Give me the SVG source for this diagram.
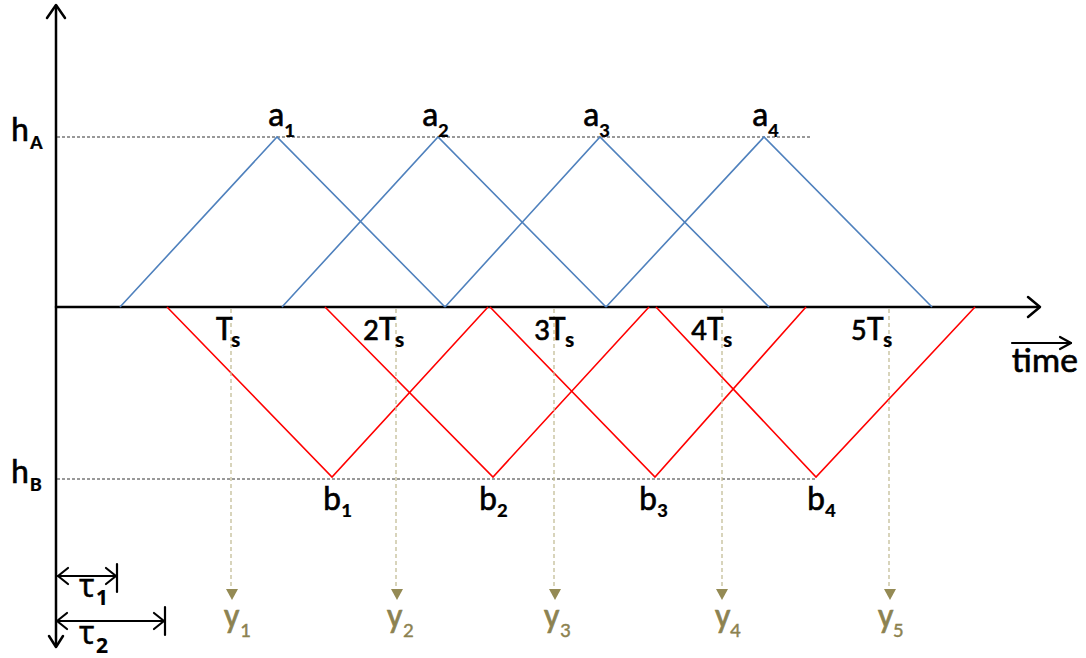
<svg xmlns="http://www.w3.org/2000/svg" width="1086" height="658" viewBox="0 0 1086 658">
<style>
.ax{stroke:#000;stroke-width:2.5;fill:none;stroke-linecap:round;stroke-linejoin:round}
.ar{stroke:#000;stroke-width:2.2;fill:none;stroke-linecap:round;stroke-linejoin:round}
.hd{stroke:#333;stroke-width:1;stroke-dasharray:3 2;fill:none}
.vd{stroke:#C4BD97;stroke-width:1.3;stroke-dasharray:4 3;fill:none}
.bl{stroke:#4F81BD;stroke-width:1.6;fill:none}
.rd{stroke:#FF0000;stroke-width:1.6;fill:none}
.oh{fill:#948A54}
.t{font-family:Carlito,Lato,"Noto Sans",sans-serif;font-size:34px;fill:#000;stroke:#000;stroke-width:0.6}
.s{font-size:21px;font-weight:bold;stroke-width:0.2}
.ss{font-size:23px;font-weight:bold;stroke-width:0.2}
.n{font-size:31px}
.g{font-family:"Noto Sans",sans-serif;font-size:32px;fill:#000;stroke:#000;stroke-width:0.4}
.y{font-family:Carlito,Lato,"Noto Sans",sans-serif;font-size:34px;fill:#8C8250;stroke:#8C8250;stroke-width:0.7}
.ys{font-size:21px;stroke-width:0.4}
</style>
<g id="axes">
<line class="ax" x1="56" y1="6" x2="56" y2="646"/>
<polyline class="ax" points="47,18 56,5 65,18"/>
<polyline class="ax" points="49,636 56,647 63,636"/>
<line class="ax" x1="56" y1="307" x2="1039" y2="307"/>
<polyline class="ax" points="1028,297 1040,307 1028,317"/>
<line class="ar" x1="1012" y1="343" x2="1071" y2="343"/>
<polyline class="ar" points="1060,337 1071,343 1060,349"/>
</g>
<g id="levels">
<line class="hd" x1="57" y1="137" x2="810" y2="137"/>
<line class="hd" x1="57" y1="479" x2="815" y2="479"/>
</g>
<g id="blue-triangles">
<polyline class="bl" points="120,307 277,137 445,307"/>
<polyline class="bl" points="282,307 438,137 606,307"/>
<polyline class="bl" points="445,307 600,137 769,307"/>
<polyline class="bl" points="606,307 764,137 932,307"/>
</g>
<g id="red-triangles">
<polyline class="rd" points="167,307 332,477 488,307"/>
<polyline class="rd" points="325,307 493,477 649,307"/>
<polyline class="rd" points="490,307 655,477 806,307"/>
<polyline class="rd" points="656,307 816,477 975,307"/>
</g>
<g id="connectors">
<line class="vd" x1="231" y1="309" x2="231" y2="589"/>
<line class="vd" x1="396" y1="309" x2="396" y2="589"/>
<line class="vd" x1="554" y1="309" x2="554" y2="589"/>
<line class="vd" x1="722" y1="309" x2="722" y2="589"/>
<line class="vd" x1="889" y1="309" x2="889" y2="589"/>
<polygon class="oh" points="226,589 238,589 232,600"/>
<polygon class="oh" points="391,589 403,589 397,600"/>
<polygon class="oh" points="549,589 561,589 555,600"/>
<polygon class="oh" points="716,589 728,589 722,600"/>
<polygon class="oh" points="884,589 896,589 890,600"/>
</g>
<g id="tau1">
<line class="ar" x1="58" y1="576" x2="116" y2="576"/>
<polyline class="ar" points="68,568 58,576 68,584"/>
<polyline class="ar" points="106,568 116,576 106,584"/>
<line class="ar" x1="117" y1="564" x2="117" y2="592"/>
<text class="g" x="79" y="597">τ<tspan class="s" x="96" y="605">1</tspan></text>
</g>
<g id="tau2">
<line class="ar" x1="57" y1="621" x2="164" y2="621"/>
<polyline class="ar" points="67,613 57,621 67,629"/>
<polyline class="ar" points="154,613 164,621 154,629"/>
<line class="ar" x1="165" y1="607" x2="165" y2="635"/>
<text class="g" x="79" y="644">τ<tspan class="s" x="96" y="653">2</tspan></text>
</g>
<g id="hA"><text class="t" x="11" y="141">h<tspan class="s" x="30" y="149">A</tspan></text></g>
<g id="hB"><text class="t" x="11" y="483">h<tspan class="s" x="30" y="491">B</tspan></text></g>
<g id="a1"><text class="t" x="268" y="126">a<tspan class="s" x="284" y="137">1</tspan></text></g>
<g id="a2"><text class="t" x="422" y="126">a<tspan class="s" x="438" y="137">2</tspan></text></g>
<g id="a3"><text class="t" x="583" y="126">a<tspan class="s" x="599" y="137">3</tspan></text></g>
<g id="a4"><text class="t" x="752" y="126">a<tspan class="s" x="768" y="137">4</tspan></text></g>
<g id="b1"><text class="t" x="323" y="510">b<tspan class="s" x="341" y="517">1</tspan></text></g>
<g id="b2"><text class="t" x="479" y="510">b<tspan class="s" x="497" y="517">2</tspan></text></g>
<g id="b3"><text class="t" x="639" y="510">b<tspan class="s" x="657" y="517">3</tspan></text></g>
<g id="b4"><text class="t" x="807" y="510">b<tspan class="s" x="825" y="517">4</tspan></text></g>
<g id="Ts1"><text class="t" x="216" y="340">T<tspan class="ss" x="231" y="347">s</tspan></text></g>
<g id="Ts2"><text class="t" x="363" y="340"><tspan class="n">2</tspan><tspan x="379">T</tspan><tspan class="ss" x="395" y="347">s</tspan></text></g>
<g id="Ts3"><text class="t" x="534" y="340"><tspan class="n">3</tspan><tspan x="549">T</tspan><tspan class="ss" x="565" y="347">s</tspan></text></g>
<g id="Ts4"><text class="t" x="691" y="340"><tspan class="n">4</tspan><tspan x="707">T</tspan><tspan class="ss" x="723" y="347">s</tspan></text></g>
<g id="Ts5"><text class="t" x="851" y="340"><tspan class="n">5</tspan><tspan x="867">T</tspan><tspan class="ss" x="883" y="347">s</tspan></text></g>
<g id="time"><text class="t" x="1012" y="372" textLength="66" lengthAdjust="spacingAndGlyphs">time</text></g>
<g id="y1"><text class="y" x="224" y="627">y<tspan class="ys" x="240" y="637">1</tspan></text></g>
<g id="y2"><text class="y" x="387" y="627">y<tspan class="ys" x="403" y="637">2</tspan></text></g>
<g id="y3"><text class="y" x="544" y="627">y<tspan class="ys" x="560" y="637">3</tspan></text></g>
<g id="y4"><text class="y" x="715" y="627">y<tspan class="ys" x="730" y="637">4</tspan></text></g>
<g id="y5"><text class="y" x="878" y="627">y<tspan class="ys" x="893" y="637">5</tspan></text></g>
</svg>
